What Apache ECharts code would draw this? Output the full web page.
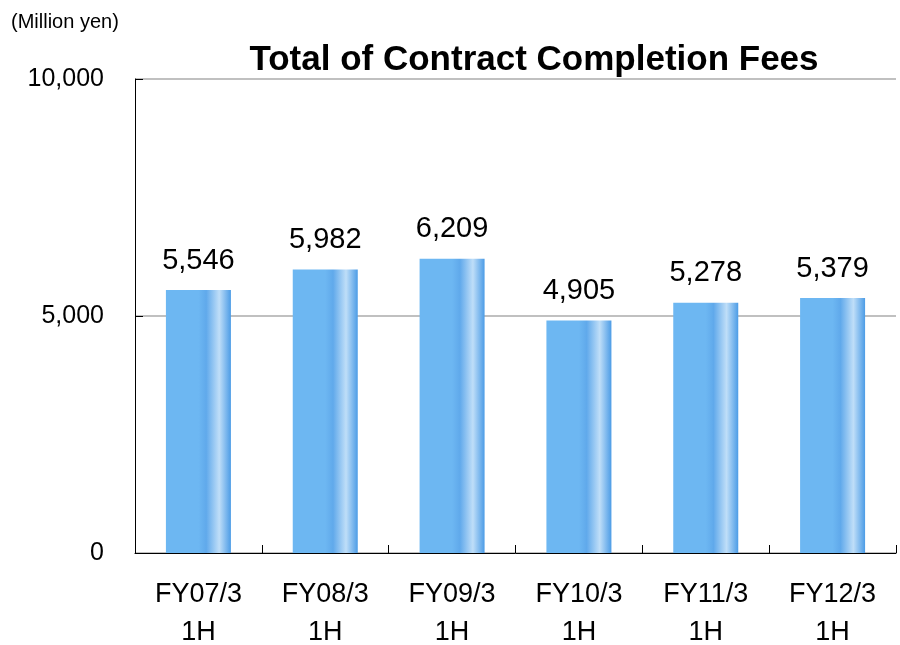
<!DOCTYPE html>
<html>
<head>
<meta charset="utf-8">
<script src="https://cdn.jsdelivr.net/npm/echarts@6/dist/echarts.min.js"></script>
<style>
  html, body { margin: 0; padding: 0; background: #fff; }
  #chart { width: 900px; height: 645px; }
</style>
</head>
<body>
<div id="chart"></div>
<script>
var categories = ['FY07/3\n1H', 'FY08/3\n1H', 'FY09/3\n1H', 'FY10/3\n1H', 'FY11/3\n1H', 'FY12/3\n1H']
var fees = [5546, 5982, 6209, 4905, 5278, 5379]
var yTicks = [0, 5000, 10000]

var myChart = echarts.init(document.getElementById('chart'))
// horizontal gradient with the light stripe near the right edge
var barColor = new echarts.graphic.LinearGradient(0, 0, 1, 0, [
  { offset: 0, color: '#6db7f2' },
  { offset: 0.5, color: '#6db7f2' },
  { offset: 0.62, color: '#60a9eb' },
  { offset: 0.82, color: '#bfdef8' },
  { offset: 1, color: '#4c9ce6' }
])

var option = {
  animation: false,
  textStyle: { fontFamily: 'Liberation Sans, Arial, sans-serif' },
  title: [{
    text: 'Total of Contract Completion Fees',
    left: 529,
    top: 38,
    textAlign: 'center',
    textStyle: { fontSize: 35, fontWeight: 'bold', color: '#000', fontFamily: 'Liberation Sans' }
  }, {
    text: '(Million yen)',
    left: 6,
    top: 7,
    textStyle: { fontSize: 20, fontWeight: 'normal', color: '#000', fontFamily: 'Liberation Sans' }
  }],
  grid: { left: 135, right: 4, top: 79, bottom: 92, containLabel: false, outerBoundsMode: 'none' },
  xAxis: {
    type: 'category',
    data: categories,
    axisLine: { lineStyle: { color: '#000', width: 1 } },
    axisTick: { show: true, inside: true, length: 8, lineStyle: { color: '#000' } },
    axisLabel: { color: '#000', fontSize: 27, lineHeight: 38, margin: 23, fontFamily: 'Liberation Sans' }
  },
  yAxis: {
    type: 'value',
    min: yTicks[0],
    max: yTicks[yTicks.length - 1],
    interval: 5000,
    axisLine: { show: true, lineStyle: { color: '#000' } },
    axisTick: { show: true, inside: true, length: 8, lineStyle: { color: '#000' } },
    splitLine: { lineStyle: { color: '#c0c0c0', width: 2 } },
    axisLabel: {
      color: '#000',
      fontSize: 25,
      margin: 31,
      fontFamily: 'Liberation Sans',
      formatter: function (v) { return v.toLocaleString('en-US') }
    }
  },
  series: [{
    type: 'bar',
    data: fees,
    barWidth: 65,
    itemStyle: { color: barColor },
    label: {
      show: true,
      position: 'top',
      distance: 15,
      color: '#000',
      fontSize: 29,
      fontFamily: 'Liberation Sans',
      formatter: function (p) { return p.value.toLocaleString('en-US') }
    }
  }]
}
myChart.setOption(option)
</script>
</body>
</html>
